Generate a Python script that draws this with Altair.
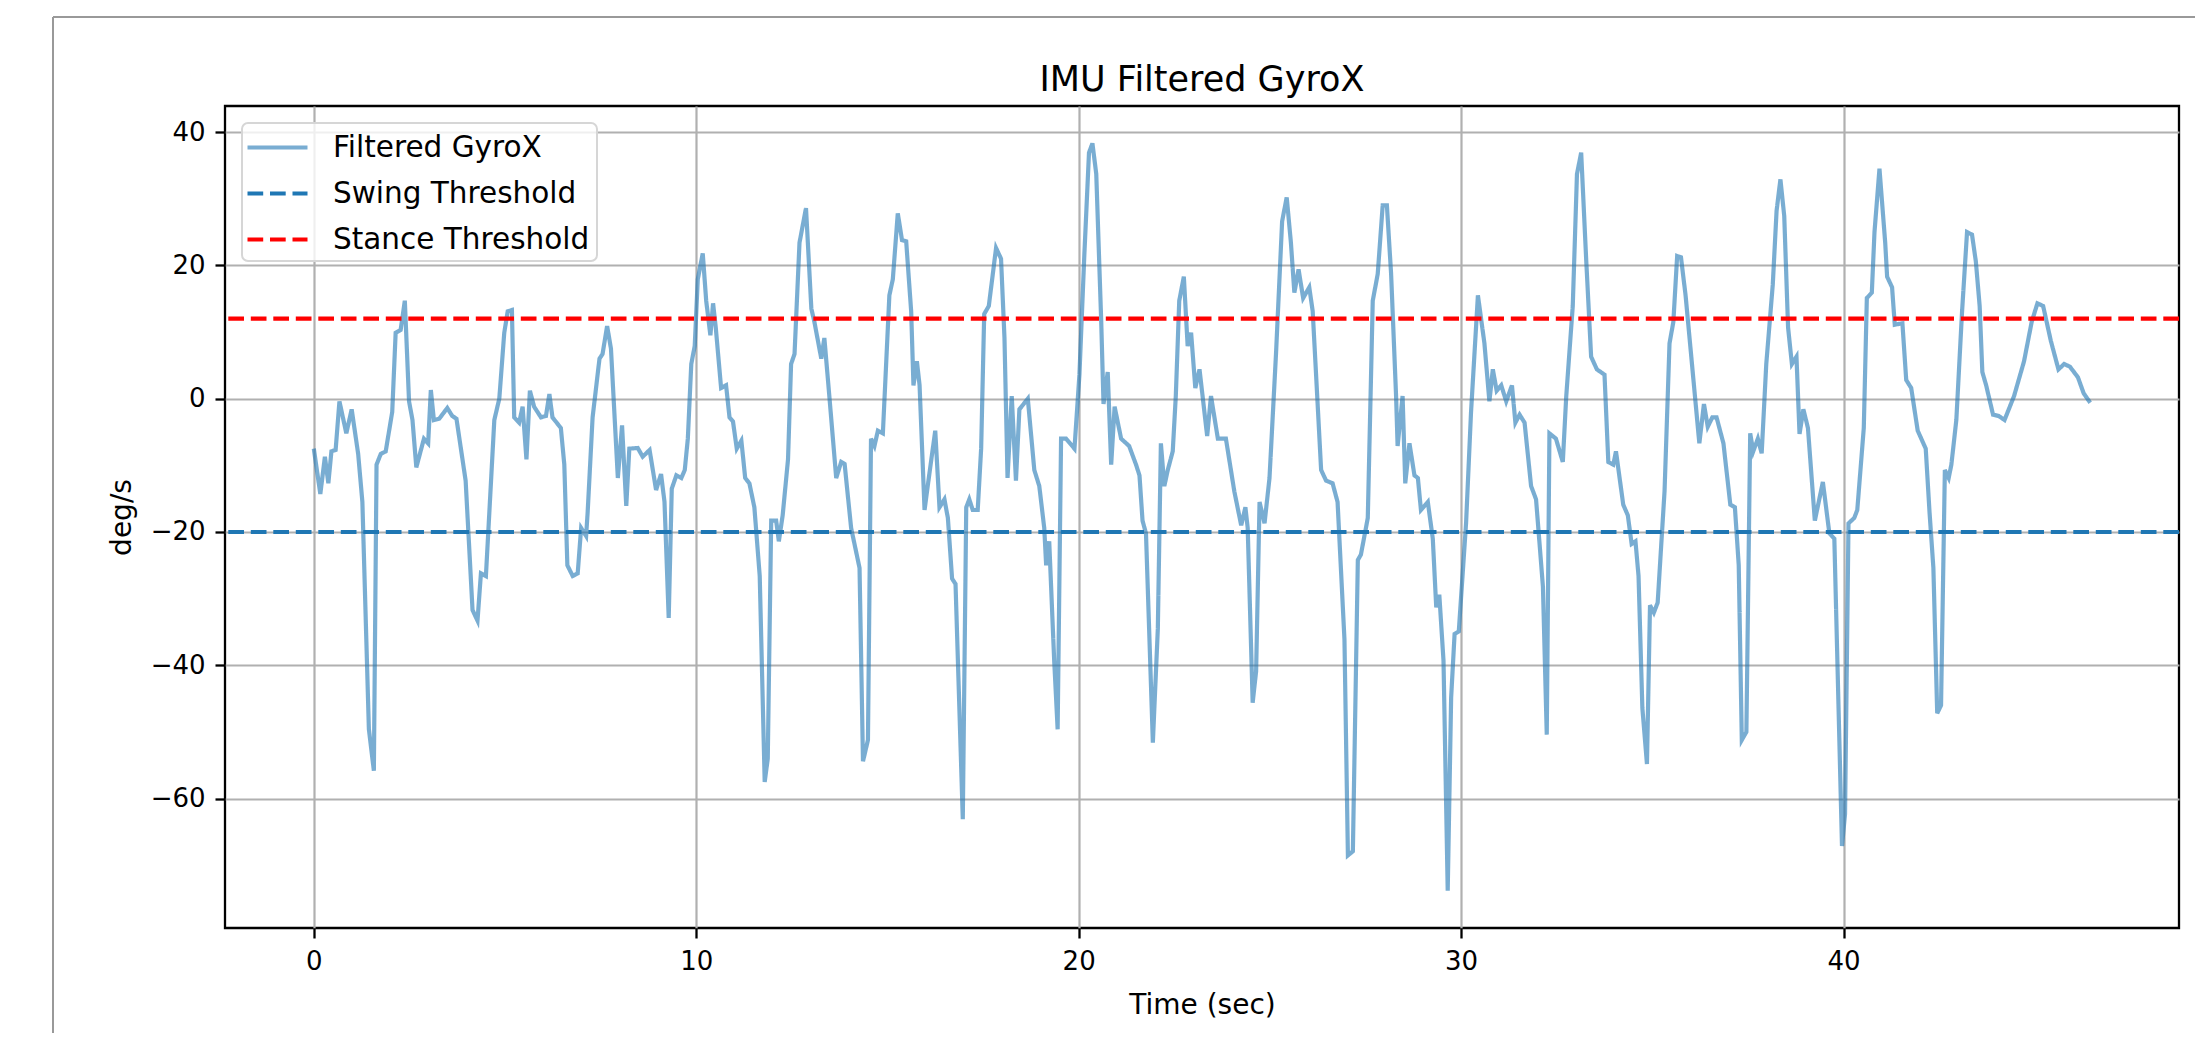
import altair as alt
import pandas as pd

# ---- data ----
time_s = [
    0.00, 0.17, 0.29, 0.38, 0.46, 0.57, 0.67, 0.85, 0.99, 1.16, 1.27, 1.44, 1.57, 1.64, 1.75, 1.88,
    2.05, 2.14, 2.27, 2.38, 2.49, 2.58, 2.68, 2.88, 2.99, 3.06, 3.14, 3.28, 3.49, 3.62, 3.73, 3.97,
    4.15, 4.28, 4.37, 4.50, 4.72, 4.85, 4.98, 5.07, 5.18, 5.24, 5.37, 5.46, 5.56, 5.65, 5.76, 5.94,
    6.07, 6.16, 6.24, 6.46, 6.55, 6.63, 6.77, 6.90, 6.99, 7.12, 7.16, 7.29, 7.47, 7.55, 7.67, 7.77,
    7.95, 8.06, 8.17, 8.25, 8.47, 8.60, 8.78, 8.95, 9.08, 9.17, 9.28, 9.36, 9.48, 9.61, 9.70, 9.78,
    9.87, 9.96, 10.04, 10.17, 10.26, 10.37, 10.44, 10.51, 10.65, 10.78, 10.87, 10.96, 11.06, 11.18,
    11.28, 11.39, 11.52, 11.66, 11.79, 11.87, 11.96, 12.09, 12.16, 12.26, 12.40, 12.48, 12.57, 12.70,
    12.87, 13.01, 13.09, 13.27, 13.35, 13.48, 13.66, 13.79, 13.88, 14.05, 14.27, 14.36, 14.49, 14.57,
    14.66, 14.75, 14.88, 15.05, 15.14, 15.27, 15.38, 15.49, 15.62, 15.68, 15.77, 15.84, 15.97, 16.10,
    16.25, 16.36, 16.49, 16.58, 16.69, 16.78, 16.97, 17.06, 17.14, 17.23, 17.36, 17.45, 17.53, 17.65,
    17.84, 17.97, 18.06, 18.14, 18.25, 18.36, 18.45, 18.67, 18.84, 18.97, 19.10, 19.15, 19.23, 19.36,
    19.45, 19.54, 19.67, 19.89, 20.02, 20.15, 20.27, 20.36, 20.46, 20.59, 20.65, 20.76, 20.85, 20.94,
    21.11, 21.32, 21.50, 21.59, 21.67, 21.76, 21.94, 22.07, 22.15, 22.24, 22.33, 22.46, 22.54, 22.63,
    22.75, 22.85, 22.94, 23.05, 23.16, 23.24, 23.36, 23.46, 23.64, 23.85, 24.07, 24.25, 24.36, 24.42,
    24.55, 24.64, 24.73, 24.86, 24.99, 25.16, 25.32, 25.44, 25.55, 25.64, 25.75, 25.87, 26.03, 26.12,
    26.34, 26.47, 26.64, 26.77, 26.95, 27.04, 27.17, 27.30, 27.38, 27.56, 27.69, 27.82, 27.95, 28.06,
    28.17, 28.30, 28.34, 28.47, 28.54, 28.65, 28.78, 28.87, 28.95, 29.13, 29.26, 29.35, 29.43, 29.54,
    29.65, 29.74, 29.83, 29.94, 30.13, 30.26, 30.44, 30.61, 30.74, 30.83, 30.93, 31.05, 31.18, 31.33,
    31.42, 31.53, 31.66, 31.83, 31.96, 32.14, 32.24, 32.31, 32.48, 32.66, 32.75, 32.92, 33.03, 33.14,
    33.27, 33.40, 33.55, 33.75, 33.85, 33.98, 34.05, 34.24, 34.36, 34.46, 34.56, 34.64, 34.74, 34.86,
    34.94, 35.04, 35.14, 35.32, 35.45, 35.55, 35.65, 35.75, 35.87, 36.05, 36.23, 36.35, 36.45, 36.57,
    36.68, 36.86, 37.04, 37.16, 37.26, 37.34, 37.46, 37.56, 37.64, 37.76, 37.86, 37.98, 38.15, 38.25,
    38.35, 38.45, 38.55, 38.65, 38.77, 38.85, 38.95, 39.07, 39.25, 39.46, 39.63, 39.76, 39.96, 40.04,
    40.13, 40.28, 40.36, 40.53, 40.61, 40.74, 40.81, 40.94, 41.09, 41.14, 41.27, 41.34, 41.54, 41.64,
    41.77, 41.94, 42.15, 42.25, 42.35, 42.45, 42.55, 42.65, 42.75, 42.82, 42.95, 43.10, 43.23, 43.36,
    43.46, 43.56, 43.63, 43.73, 43.91, 44.06, 44.21, 44.46, 44.72, 44.92, 45.07, 45.22, 45.42, 45.62,
    45.77, 45.92, 46.13, 46.28, 46.45,
]

gyro_x = [
    -7.5, -14.3, -8.7, -12.7, -7.9, -7.7, -0.4, -5.2, -1.6, -8.3, -15.5, -49.6, -55.8, -9.9, -8.3, -7.9,
    -2.0, 9.9, 10.3, 14.7, -0.4, -3.2, -10.3, -6.0, -6.7, 1.3, -3.2, -3.0, -1.4, -2.6, -3.0, -12.3,
    -31.7, -33.3, -26.2, -26.6, -3.2, 0.0, 9.9, 13.1, 13.3, -2.8, -3.6, -1.2, -9.1, 1.2, -1.2, -2.8,
    -2.6, 0.7, -2.8, -4.4, -9.9, -25.0, -26.6, -26.2, -19.4, -20.6, -17.1, -2.8, 6.0, 6.7, 10.9, 7.5,
    -11.9, -4.0, -16.1, -7.5, -7.4, -8.7, -7.7, -13.7, -11.3, -15.5, -32.9, -13.5, -11.5, -11.9, -10.7, -6.0,
    5.2, 7.9, 17.9, 21.8, 14.7, 9.5, 14.3, 10.7, 1.6, 2.0, -2.8, -3.4, -7.5, -6.3,
    -11.9, -12.7, -16.3, -26.6, -57.5, -54.0, -18.3, -18.3, -21.4, -17.5, -9.1, 5.2, 6.7, 23.4,
    28.6, 13.5, 11.5, 6.0, 9.1, 0.4, -11.9, -9.5, -9.8, -19.4, -25.4, -54.4, -51.2, -6.0,
    -7.1, -4.8, -5.2, 15.5, 17.9, 27.8, 23.8, 23.6, 13.1, 2.0, 5.6, 2.0, -16.7, -11.1,
    -4.8, -16.3, -15.1, -17.9, -27.0, -27.8, -63.1, -16.3, -15.1, -16.7, -16.7, -7.5, 12.7, 13.9,
    22.6, 21.0, 9.1, -11.9, 0.4, -12.3, -1.6, 0.0, -10.7, -13.1, -19.4, -25.0, -21.4, -39.3,
    -49.6, -6.0, -6.0, -7.5, 3.6, 21.8, 36.9, 38.3, 33.7, 11.5, -0.8, 4.0, -9.9, -1.2,
    -6.0, -7.1, -9.9, -11.5, -18.3, -20.2, -51.6, -34.5, -6.7, -13.1, -10.7, -7.9, 0.4, 14.7,
    18.3, 7.9, 9.9, 1.6, 4.4, 0.4, -5.6, 0.4, -6.0, -6.0, -13.9, -19.0, -16.3, -19.4,
    -45.6, -40.9, -15.5, -18.7, -11.9, 6.7, 26.6, 30.2, 23.4, 15.9, 19.4, 15.1, 16.7, 13.1,
    -10.7, -12.3, -12.7, -15.5, -36.1, -68.5, -67.9, -24.2, -23.4, -17.9, 14.7, 18.7, 29.0, 29.0,
    18.7, 0.4, -7.1, 0.4, -12.7, -6.7, -11.5, -11.9, -16.7, -15.5, -21.0, -31.3, -29.4, -39.3,
    -73.8, -44.8, -35.3, -34.9, -18.7, -2.0, 15.5, 8.3, -0.4, 4.4, 1.2, 2.0, -0.4, 2.0,
    -3.6, -2.4, -3.6, -13.1, -15.1, -28.2, -50.4, -5.2, -6.0, -9.5, 0.4, 13.9, 33.7, 36.9,
    21.0, 6.3, 4.4, 3.6, -9.5, -9.9, -7.9, -15.9, -17.5, -21.8, -21.4, -26.6, -46.4, -54.8,
    -31.0, -32.1, -30.6, -13.9, 8.3, 11.5, 21.4, 21.2, 15.5, 4.4, -6.7, -0.8, -4.2, -2.8,
    -2.8, -6.7, -15.9, -16.3, -25.0, -51.2, -50.0, -5.2, -7.9, -6.0, -8.2, 5.2, 17.1, 28.2,
    32.9, 27.4, 10.7, 5.2, 6.3, -5.3, -1.6, -4.4, -18.3, -12.5, -20.2, -21.0, -67.1, -62.3,
    -18.7, -17.9, -16.7, -4.4, 15.1, 15.9, 25.0, 34.5, 23.4, 18.3, 16.7, 11.1, 11.3, 2.8,
    1.6, -4.8, -7.5, -17.1, -25.4, -47.2, -46.0, -10.7, -11.9, -9.9, -3.2, 13.1, 25.0, 24.6,
    20.6, 13.9, 4.0, 2.0, -2.4, -2.6, -3.2, 0.4, 5.6, 11.5, 14.3, 13.9, 8.7, 4.4,
    5.2, 4.8, 3.2, 0.8, -0.6,
]

swing_threshold = -20.0
stance_threshold = 12.0

series_names = ["Filtered GyroX", "Swing Threshold", "Stance Threshold"]
series_colors = ["rgba(31,119,180,0.6)", "#1f77b4", "#ff0000"]
series_dashes = [[1, 0], [15.7, 6.8], [15.7, 6.8]]

chart_title = "IMU Filtered GyroX"
x_ticks = [0, 10, 20, 30, 40]
y_ticks = [-60, -40, -20, 0, 20, 40]

FONT = "DejaVu Sans"
W, H = 1954, 822

# matplotlib-like 5% margins
x_lo, x_hi = min(time_s), max(time_s)
y_lo, y_hi = min(gyro_x), max(gyro_x)
x_dom = [x_lo - 0.05 * (x_hi - x_lo), x_hi + 0.05 * (x_hi - x_lo)]
y_dom = [y_lo - 0.05 * (y_hi - y_lo), y_hi + 0.05 * (y_hi - y_lo)]

line_df = pd.DataFrame({"t": time_s, "v": gyro_x, "series": series_names[0]})
thr_df = pd.DataFrame({"v": [swing_threshold, stance_threshold],
                       "series": [series_names[1], series_names[2]]})
title_df = pd.DataFrame({"label": [chart_title]})
frame_df = pd.DataFrame({"k": [0]})

color_enc = alt.Color("series:N", title=None,
                      scale=alt.Scale(domain=series_names, range=series_colors))
dash_enc = alt.StrokeDash("series:N", title=None,
                          scale=alt.Scale(domain=series_names, range=series_dashes))

x_enc = alt.X("t:Q", title="Time (sec)",
              scale=alt.Scale(domain=x_dom, nice=False, zero=False),
              axis=alt.Axis(values=x_ticks, format="d"))
y_axis = alt.Axis(values=y_ticks, format="d",
                  labelExpr="replace(datum.label, '-', '\u2212')")

line = alt.Chart(line_df).mark_line(strokeWidth=4.2, clip=True).encode(
    x=x_enc,
    y=alt.Y("v:Q", title="deg/s", scale=alt.Scale(domain=y_dom, nice=False, zero=False), axis=y_axis),
    color=color_enc,
    strokeDash=dash_enc,
)

rules = alt.Chart(thr_df).mark_rule(strokeWidth=4.2).encode(
    y=alt.Y("v:Q"),
    color=color_enc,
    strokeDash=dash_enc,
)

title_mark = alt.Chart(title_df).mark_text(
    font=FONT, fontSize=35, color="black", align="center", baseline="alphabetic"
).encode(x=alt.value(W / 2), y=alt.value(-15), text="label:N")

# outer figure frame (notebook output border)
frame_top = alt.Chart(frame_df).mark_rule(color="#999999", strokeWidth=2).encode(
    x=alt.value(-172), x2=alt.value(1980), y=alt.value(-89))
frame_left = alt.Chart(frame_df).mark_rule(color="#999999", strokeWidth=2).encode(
    x=alt.value(-172), y=alt.value(-89), y2=alt.value(960))

legend_path = "M-2,0L2,0"

chart = alt.layer(line, rules, title_mark, frame_top, frame_left).properties(
    width=W,
    height=H,
    padding={"left": 217, "top": 98, "right": 16, "bottom": 105},
    autosize=alt.AutoSizeParams(type="none"),
).configure_view(
    stroke="black", strokeWidth=2.3,
).configure_axis(
    labelFont=FONT, labelFontSize=26, labelColor="black",
    titleFont=FONT, titleFontSize=28, titleFontWeight="normal", titleColor="black",
    grid=True, gridColor="#b0b0b0", gridWidth=2.2,
    domain=False, tickColor="black", tickWidth=2.3, tickSize=10, labelPadding=10,
).configure_axisX(
    titlePadding=17,
).configure_axisY(
    titlePadding=14,
).configure_legend(
    orient="none", legendX=17, legendY=17,
    fillColor="rgba(255,255,255,0.8)", strokeColor="#d6d6d6", strokeWidth=2, cornerRadius=6,
    padding=7, rowPadding=14, labelFont=FONT, labelFontSize=29.5, labelColor="black",
    symbolOffset=11, labelOffset=38, labelLimit=0, symbolType=legend_path,
    symbolStrokeWidth=4.2, symbolSize=900,
)

chart.save("out.html", embed_options={"renderer": "svg", "actions": False})
